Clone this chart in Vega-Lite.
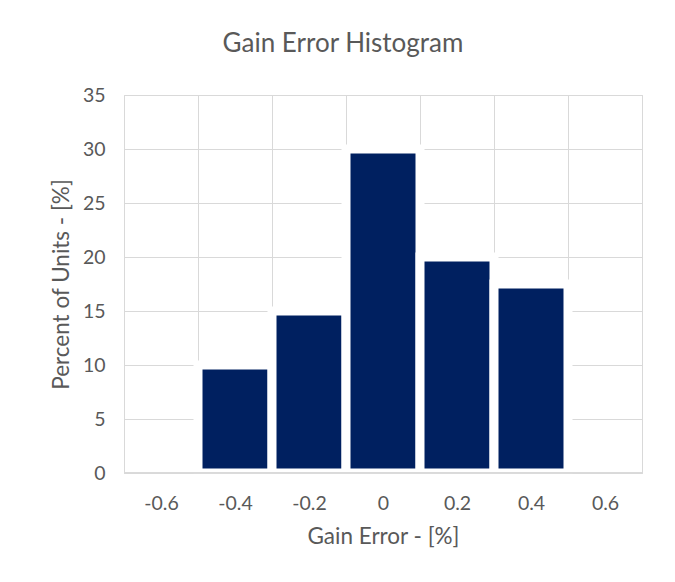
{
  "$schema": "https://vega.github.io/schema/vega-lite/v6.json",
  "width": 518,
  "height": 378,
  "autosize": {"type": "none"},
  "padding": {"left": 124, "top": 95, "right": 33, "bottom": 109},
  "background": "white",
  "title": {
    "text": "Gain Error Histogram",
    "font": "Lato",
    "fontSize": 26,
    "fontWeight": "normal",
    "color": "#595959",
    "anchor": "middle",
    "dx": -40,
    "offset": 28
  },
  "data": {
    "values": [
      {"bin": "-0.4", "percent": 10},
      {"bin": "-0.2", "percent": 15},
      {"bin": "0", "percent": 30},
      {"bin": "0.2", "percent": 20},
      {"bin": "0.4", "percent": 17.5}
    ]
  },
  "layer": [
    {
      "mark": {"type": "bar", "color": "#002060", "stroke": "white", "strokeWidth": 9},
      "encoding": {
        "x": {
          "field": "bin",
          "type": "ordinal",
          "sort": null,
          "scale": {
            "domain": ["-0.6", "-0.4", "-0.2", "0", "0.2", "0.4", "0.6"],
            "paddingInner": 0,
            "paddingOuter": 0
          },
          "axis": {
            "title": "Gain Error - [%]",
            "tickBand": "extent",
            "grid": true,
            "ticks": false,
            "domain": false,
            "labelAngle": 0,
            "labelPadding": 21,
            "titlePadding": 13
          }
        },
        "y": {
          "field": "percent",
          "type": "quantitative",
          "scale": {"domain": [0, 35]},
          "axis": {
            "title": "Percent of Units - [%]",
            "values": [0, 5, 10, 15, 20, 25, 30, 35],
            "grid": true,
            "ticks": false,
            "domain": false,
            "labelPadding": 19,
            "titlePadding": 9
          }
        }
      }
    },
    {
      "mark": {"type": "rule", "color": "#d9d9d9", "strokeWidth": 1},
      "encoding": {"y": {"datum": 0}}
    }
  ],
  "config": {
    "view": {"stroke": "#d9d9d9", "strokeWidth": 1},
    "axis": {
      "gridColor": "#d9d9d9",
      "gridWidth": 1,
      "labelFont": "Lato",
      "labelFontSize": 19.5,
      "labelColor": "#595959",
      "titleFont": "Lato",
      "titleFontSize": 22.5,
      "titleFontWeight": "normal",
      "titleColor": "#595959"
    }
  }
}
